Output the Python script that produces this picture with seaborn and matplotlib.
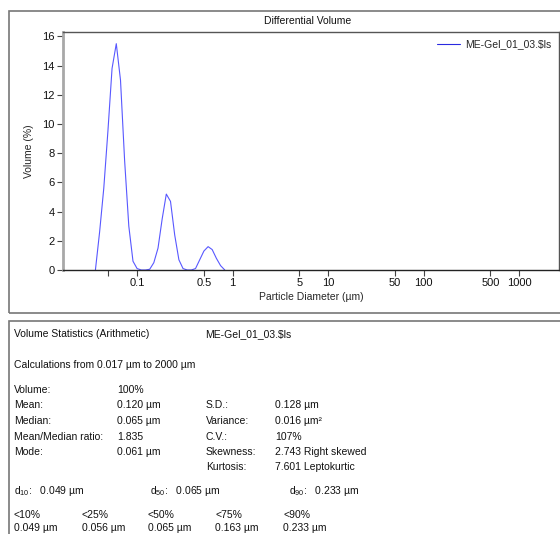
import matplotlib
matplotlib.use("Agg")
import matplotlib.pyplot as plt
from matplotlib.patches import Rectangle
import seaborn as sns
import pandas as pd

sns.set_style("white")
plt.rcParams['font.family'] = ['Liberation Sans Narrow', 'Liberation Sans', 'DejaVu Sans']
plt.rcParams['mathtext.fontset'] = 'custom'
plt.rcParams['mathtext.rm'] = 'Liberation Sans Narrow'

# particle diameter (um) and differential volume (%)
diameter = [0.0367, 0.0406, 0.0449, 0.0496, 0.0548, 0.0607, 0.0672, 0.0742,
            0.0821, 0.0908, 0.1002, 0.1109, 0.1227, 0.1358, 0.150, 0.166,
            0.1835, 0.2027, 0.2243, 0.2482, 0.2746, 0.3033, 0.3355, 0.3712,
            0.4101, 0.4536, 0.5019, 0.5553, 0.6126, 0.6779, 0.750, 0.830]
volume = [0.0, 2.6, 5.6, 9.5, 13.8, 15.5, 13.0, 7.5,
          3.0, 0.6, 0.1, 0.0, 0.0, 0.05, 0.5, 1.5,
          3.5, 5.2, 4.7, 2.4, 0.7, 0.1, 0.0, 0.0,
          0.1, 0.7, 1.3, 1.6, 1.4, 0.8, 0.3, 0.0]
sample = "ME-Gel_01_03.$ls"

xticks = [0.05, 0.1, 0.5, 1, 5, 10, 50, 100, 500, 1000]
xticklabels = ['', '0.1', '0.5', '1', '5', '10', '50', '100', '500', '1000']
yticks = [0, 2, 4, 6, 8, 10, 12, 14, 16]

stat_labels = ["Volume:", "Mean:", "Median:", "Mean/Median ratio:", "Mode:"]
stat_values = ["100%", "0.120 µm", "0.065 µm", "1.835", "0.061 µm"]
shape_labels = ["S.D.:", "Variance:", "C.V.:", "Skewness:", "Kurtosis:"]
shape_values = ["0.128 µm", "0.016 µm²", "107%", "2.743 Right skewed", "7.601 Leptokurtic"]
d_labels = [r"d$_\mathregular{10}$:   0.049 µm", r"d$_\mathregular{50}$:   0.065 µm",
            r"d$_\mathregular{90}$:   0.233 µm"]
pct_labels = ["<10%", "<25%", "<50%", "<75%", "<90%"]
pct_values = ["0.049 µm", "0.056 µm", "0.065 µm", "0.163 µm", "0.233 µm"]

W, H = 560, 534
fig = plt.figure(figsize=(W / 100, H / 100), dpi=100)


def fx(x):
    return x / W


def fy(y):
    return 1 - y / H


def ftext(x, y, s, **kw):
    fig.text(fx(x), fy(y), s, va='center', ha=kw.pop('ha', 'left'),
             fontsize=kw.pop('fontsize', 7.5), color='#111111', **kw)


# panel frames
fig.patches.append(Rectangle((fx(9), fy(313)), fx(600 - 9), (313 - 11) / H,
                             transform=fig.transFigure, fill=False,
                             edgecolor='#777777', lw=1.2))
fig.patches.append(Rectangle((fx(9), fy(560)), fx(600 - 9), (560 - 321) / H,
                             transform=fig.transFigure, fill=False,
                             edgecolor='#777777', lw=1.2))

ax = fig.add_axes([fx(63), fy(270), fx(559 - 63), (270 - 32) / H])
df = pd.DataFrame({"Particle Diameter": diameter, "Volume": volume})
sns.lineplot(data=df, x="Particle Diameter", y="Volume", ax=ax,
             color='#5858ff', lw=0.8, label=sample)
ax.set_xscale('log')
ax.set_xlim(0.0168, 2620)
ax.set_ylim(0, 16.3)
ax.set_xticks(xticks)
ax.set_xticklabels(xticklabels)
ax.minorticks_off()
ax.set_yticks(yticks)
ax.tick_params(axis='both', direction='out', length=4, width=0.8,
               labelsize=8, colors='#444444', labelcolor='#111111', pad=2,
               bottom=True, left=True)
ax.set_xlabel("Particle Diameter (µm)", fontsize=7.5, labelpad=3)
ax.set_ylabel("Volume (%)", fontsize=7.5, labelpad=6)
for side in ['top', 'right']:
    ax.spines[side].set_color('#555555')
    ax.spines[side].set_linewidth(1.0)
ax.spines['left'].set_color('#a8a8a8')
ax.spines['left'].set_linewidth(2.0)
ax.spines['bottom'].set_color('#222222')
ax.spines['bottom'].set_linewidth(1.0)
leg = ax.legend(loc='upper right', frameon=False, fontsize=7.5,
                handlelength=2.2, borderaxespad=0.3, handletextpad=0.5)
for line in leg.get_lines():
    line.set_color('#2a2ae0')

ftext(308, 21, "Differential Volume", ha='center')

# statistics panel
ftext(14, 334, "Volume Statistics (Arithmetic)")
ftext(205, 334, sample)
ftext(14, 365, "Calculations from 0.017 µm to 2000 µm")
row_y = [390, 405.5, 421, 436.5, 452]
for y, lab, val in zip(row_y, stat_labels, stat_values):
    ftext(14, y, lab)
    ftext(117, y, val)
shape_y = [405.5, 421, 436.5, 452, 467.5]
for y, lab, val in zip(shape_y, shape_labels, shape_values):
    ftext(206, y, lab)
    ftext(275, y, val)
for x, lab in zip([14, 150, 289], d_labels):
    ftext(x, 491, lab)
for x, lab, val in zip([14, 82, 148, 215, 283], pct_labels, pct_values):
    ftext(x, 515, lab)
    ftext(x, 528, val)

fig.savefig("out.png", dpi=100)
